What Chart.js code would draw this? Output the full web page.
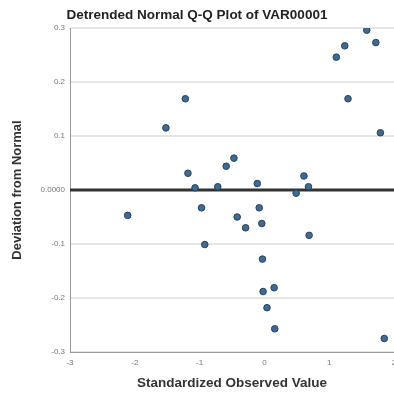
<!DOCTYPE html>
<html>
<head>
<meta charset="utf-8">
<script src="https://cdn.jsdelivr.net/npm/chart.js@4"></script>
<style>
html,body{margin:0;padding:0;background:#fff;}
#c{display:block;}
</style>
</head>
<body>
<canvas id="c" width="394" height="398"></canvas>
<script>
const chartTitle = "Detrended Normal Q-Q Plot of VAR00001";
const xAxisTitle = "Standardized Observed Value";
const yAxisTitle = "Deviation from Normal";
const xTickValues = [-3, -2, -1, 0, 1, 2];
const yTickLabels = ["-0.3", "-0.2", "-0.1", "0.0000", "0.1", "0.2", "0.3"];
const xValues = [-2.11, -1.52, -1.22, -1.18, -1.07, -0.97, -0.92, -0.72, -0.59, -0.47, -0.42, -0.29, -0.11, -0.08, -0.04, -0.03, -0.02, 0.04, 0.15, 0.16, 0.49, 0.61, 0.68, 0.69, 1.11, 1.24, 1.29, 1.58, 1.72, 1.79, 1.85];
const yValues = [-0.047, 0.115, 0.169, 0.031, 0.004, -0.033, -0.101, 0.006, 0.044, 0.059, -0.050, -0.070, 0.012, -0.033, -0.062, -0.128, -0.188, -0.218, -0.181, -0.257, -0.006, 0.026, 0.006, -0.084, 0.246, 0.267, 0.169, 0.296, 0.273, 0.106, -0.275];
const referenceLine = [0, 0];

const points = xValues.map((x, i) => ({x: x, y: yValues[i]}));
const refPoints = [{x: xTickValues[0], y: referenceLine[0]}, {x: xTickValues[xTickValues.length - 1], y: referenceLine[1]}];

new Chart(document.getElementById('c'), {
  type: 'scatter',
  data: {
    datasets: [
      {
        type: 'line',
        data: refPoints,
        borderColor: '#333333',
        borderWidth: 3,
        pointRadius: 0,
        order: 2
      },
      {
        data: points,
        backgroundColor: '#3f6a92',
        borderColor: '#2a4158',
        borderWidth: 1,
        pointRadius: 3.3,
        order: 1
      }
    ]
  },
  options: {
    responsive: false,
    animation: false,
    layout: {autoPadding: false, padding: {left: 0, right: 0, top: 0, bottom: 0}},
    plugins: {
      legend: {display: false},
      tooltip: {enabled: false},
      title: {
        display: true,
        text: chartTitle,
        color: '#222',
        font: {family: 'Liberation Sans, Arial, sans-serif', size: 13.5, weight: 'bold'},
        padding: {top: 7, bottom: 4.8}
      }
    },
    scales: {
      x: {
        type: 'linear',
        min: -3, max: 2,
        afterFit: s => { s.height = 46; s.paddingRight = 0; s.paddingLeft = 0; },
        afterBuildTicks: s => { s.ticks = xTickValues.map(v => ({value: v})); },
        ticks: {
          color: '#777',
          font: {family: 'Liberation Sans, Arial, sans-serif', size: 8},
          padding: 6,
          maxRotation: 0,
          callback: v => String(v)
        },
        grid: {display: false, drawTicks: false},
        border: {display: true, color: '#9a9a9a', width: 1},
        title: {
          display: true,
          text: xAxisTitle,
          color: '#333',
          font: {family: 'Liberation Sans, Arial, sans-serif', size: 13.5, weight: 'bold'},
          padding: {top: 0, bottom: 7}
        }
      },
      y: {
        min: -0.3, max: 0.3,
        afterFit: s => { s.width = 70; },
        afterBuildTicks: s => { s.ticks = yTickLabels.map(t => ({value: parseFloat(t)})); },
        ticks: {
          color: '#777',
          font: {family: 'Liberation Sans, Arial, sans-serif', size: 8},
          padding: 5,
          callback: (v, i) => yTickLabels[i]
        },
        grid: {color: '#e5e5e5', lineWidth: 2, drawTicks: false},
        border: {display: true, color: '#9a9a9a', width: 1},
        title: {
          display: true,
          text: yAxisTitle,
          color: '#333',
          font: {family: 'Liberation Sans, Arial, sans-serif', size: 13, weight: 'bold'},
          padding: {top: 10, bottom: 0}
        }
      }
    }
  }
});
</script>
</body>
</html>
